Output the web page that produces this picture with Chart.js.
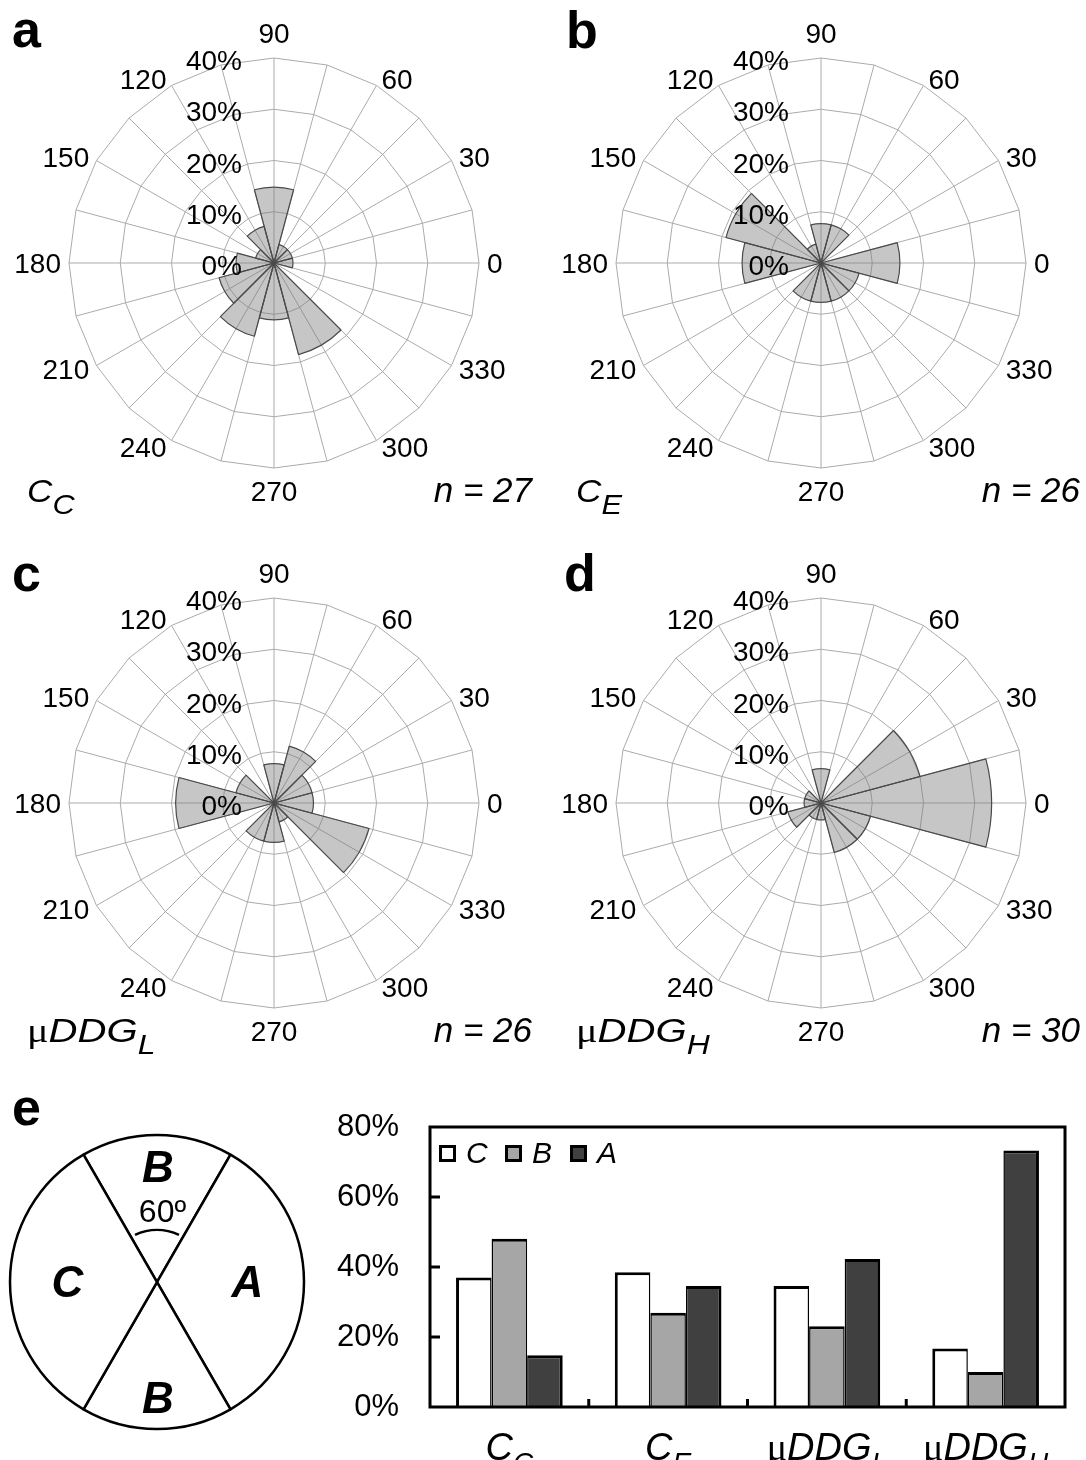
<!DOCTYPE html>
<html>
<head>
<meta charset="utf-8">
<script src="https://cdn.jsdelivr.net/npm/chart.js@4.4.1/dist/chart.umd.min.js"></script>
<style>
html,body{margin:0;padding:0;background:#fff;}
#page{position:relative;width:1086px;height:1460px;overflow:hidden;background:#fff;font-family:"Liberation Sans",Arial,sans-serif;color:#000;}
#page canvas{position:absolute;}
.t{position:absolute;white-space:nowrap;line-height:1;}
.mu{font-family:"Liberation Serif","Times New Roman",serif;font-style:normal;}
.sq{position:absolute;width:11px;height:11px;border:3px solid #000;}
</style>
</head>
<body>
<div id="page"></div>
<script>
// ---------------- data ----------------
const directions = [0, 30, 60, 90, 120, 150, 180, 210, 240, 270, 300, 330];   // wedge centres (deg)
const gridStep = 15;                                                          // spoke spacing (deg)
const radialTicks = [0, 10, 20, 30, 40];                                      // % rings

const roseCC   = [3.7, 3.7, 3.7, 14.8, 7.4, 3.7, 7.4, 11.1, 14.8, 11.1, 18.5, 0];
const roseCE   = [15.4, 0, 7.7, 7.7, 3.8, 19.2, 15.4, 0, 7.7, 7.7, 7.7, 7.7];
const roseDDGL = [7.7, 7.7, 11.5, 7.7, 0, 7.7, 19.2, 0, 7.7, 7.7, 3.8, 19.2];
const roseDDGH = [33.3, 20.0, 0, 6.7, 0, 3.3, 3.3, 6.7, 3.3, 3.3, 10.0, 10.0];
const roseTitles = ['C_C', 'C_E', 'μDDG_L', 'μDDG_H'];
const roseN = [27, 26, 26, 30];
const panelLetters = ['a', 'b', 'c', 'd', 'e'];

const barCategories = ['C_C', 'C_E', 'μDDG_L', 'μDDG_H'];
const barSeriesNames = ['C', 'B', 'A'];
const barC = [37.0, 38.5, 34.6, 16.7];
const barB = [48.1, 26.9, 23.1, 10.0];
const barA = [14.8, 34.6, 42.3, 73.3];
const barTicks = [0, 20, 40, 60, 80];

const sectorNames = ['B', 'A', 'B', 'C'];
const sectorAngles = [60, 120, 60, 120];

// ---------------- helpers ----------------
const page = document.getElementById('page');
const FONT = '"Liberation Sans", Arial, sans-serif';

function fmtLabel(s, subFs, subShift) {
  const parts = s.split('_');
  const main = parts[0].replace('μ', '<span class="mu">μ</span>');
  const sub = parts[1] ? `<span style="font-size:${subFs}px;vertical-align:-${subShift}px">${parts[1]}</span>` : '';
  return main + sub;
}
function addText(html, x, base, fs, o = {}) {
  const d = document.createElement('div');
  d.className = 't';
  d.innerHTML = html;
  d.style.fontSize = fs + 'px';
  if (o.italic) d.style.fontStyle = 'italic';
  if (o.bold) d.style.fontWeight = 'bold';
  d.style.top = (base - 0.8465 * fs) + 'px';
  let tf = '';
  if (o.align === 'right') { d.style.right = (1086 - x) + 'px'; d.style.transformOrigin = 'right center'; }
  else if (o.align === 'center') { d.style.left = x + 'px'; tf = 'translateX(-50%) '; }
  else { d.style.left = x + 'px'; d.style.transformOrigin = 'left center'; }
  if (o.sx) tf += 'scaleX(' + o.sx + ')';
  if (tf) d.style.transform = tf;
  page.appendChild(d);
  return d;
}
function addCanvas(x, y, w, h) {
  const c = document.createElement('canvas');
  c.width = w; c.height = h;
  c.style.left = x + 'px'; c.style.top = y + 'px';
  c.style.width = w + 'px'; c.style.height = h + 'px';
  page.appendChild(c);
  return c;
}

// grid labels: 24 spokes, only multiples of 30 labelled
const nSpokes = 360 / gridStep;
const gridLabels = [];
for (let i = 0; i < nSpokes; i++) {
  const a = ((gridStep - gridStep * i) % 360 + 360) % 360;
  gridLabels.push(directions.includes(a) ? String(a) : '');
}

const roseLabelPlugin = {
  id: 'roseLabels',
  afterDraw(chart) {
    const s = chart.scales.r, ctx = chart.ctx, R = s.drawingArea;
    const fs = 28, cap = fs * 0.716 / 2;
    ctx.save();
    ctx.fillStyle = '#000';
    ctx.font = fs + 'px ' + FONT;
    ctx.textBaseline = 'alphabetic';
    gridLabels.forEach((lab, i) => {
      if (lab === '') return;
      const p = s.getPointPosition(i, R);
      const c = Math.cos(p.angle), sn = -Math.sin(p.angle);
      if (Math.abs(c) < 0.01) {
        ctx.textAlign = 'center';
        ctx.fillText(lab, p.x, sn > 0 ? p.y - 15 : p.y + 33.4);
      } else {
        const off = 2 + 6 * Math.abs(c);
        ctx.textAlign = c > 0 ? 'left' : 'right';
        ctx.fillText(lab, p.x + (c > 0 ? off : -off), p.y - 7.5 * sn + cap);
      }
    });
    ctx.textAlign = 'right';
    radialTicks.forEach(v => {
      const r = s.getDistanceFromCenterForValue(v);
      ctx.fillText(v + '%', s.xCenter - 32, s.yCenter - r + 2 + cap);
    });
    ctx.restore();
  }
};

// ---------------- rose panels ----------------
const roseSeries = [roseCC, roseCE, roseDDGL, roseDDGH];
const panels = [
  {ox: 0,   oy: 0,   cx: 274, cy: 263},
  {ox: 545, oy: 0,   cx: 821, cy: 263},
  {ox: 0,   oy: 540, cx: 274, cy: 803},
  {ox: 545, oy: 540, cx: 821, cy: 803}
];
const CW = 541, CH = 535, RR = 205;
const wedgeWidth = 360 / directions.length;

panels.forEach((P, idx) => {
  const cv = addCanvas(P.ox, P.oy, CW, CH);
  const vals = roseSeries[idx];
  const chartData = [];
  for (let k = 0; k < directions.length; k++) {
    const ang = (360 - wedgeWidth * k) % 360;
    chartData.push(vals[directions.indexOf(ang)]);
  }
  const lx = P.cx - P.ox, ly = P.cy - P.oy;
  new Chart(cv, {
    type: 'polarArea',
    data: {
      labels: gridLabels,
      datasets: [{
        data: chartData,
        backgroundColor: 'rgba(120,120,120,0.42)',
        borderColor: '#4a4a4a',
        borderWidth: 1.2
      }]
    },
    options: {
      responsive: false,
      animation: false,
      events: [],
      layout: {padding: {left: lx - RR, top: ly - RR, right: CW - lx - RR, bottom: CH - ly - RR}},
      plugins: {legend: {display: false}, tooltip: {enabled: false}},
      scales: {
        r: {
          min: 0, max: 40,
          startAngle: 90 - gridStep,
          ticks: {display: false, stepSize: 10},
          grid: {circular: false, color: '#ababab', lineWidth: 1},
          angleLines: {display: true, color: '#ababab', lineWidth: 1},
          pointLabels: {display: false}
        }
      }
    },
    plugins: [roseLabelPlugin]
  });
  // titles & n
  const base = P.cy + 239;
  const isMu = roseTitles[idx].indexOf('μ') === 0;
  addText(fmtLabel(roseTitles[idx], isMu ? 27 : 28, 11.5), P.ox + (idx % 2 ? 31 : 27), base, isMu ? 34 : 32,
          {italic: true, sx: isMu ? 1.18 : 1.1});
  addText('n = ' + roseN[idx], P.ox + (idx % 2 ? 535 : 532), base, 35, {italic: true, align: 'right'});
});

// panel letters
addText(panelLetters[0], 12, 47, 52, {bold: true});
addText(panelLetters[1], 566, 48, 52, {bold: true});
addText(panelLetters[2], 12, 591, 52, {bold: true});
addText(panelLetters[3], 564, 591, 52, {bold: true});
addText(panelLetters[4], 12, 1125, 52, {bold: true});

// ---------------- panel e: schematic pie ----------------
const arcMarkPlugin = {
  id: 'arcMark',
  afterDraw(chart) {
    const el = chart.getDatasetMeta(0).data[0];
    const ctx = chart.ctx;
    ctx.save();
    ctx.strokeStyle = '#000';
    ctx.lineWidth = 2.5;
    ctx.beginPath();
    ctx.arc(el.x, el.y, 52, -115 * Math.PI / 180, -65 * Math.PI / 180);
    ctx.stroke();
    ctx.restore();
  }
};
const cvPie = addCanvas(0, 1130, 314, 304);
new Chart(cvPie, {
  type: 'pie',
  data: {
    labels: sectorNames,
    datasets: [{
      data: sectorAngles,
      backgroundColor: '#ffffff',
      borderColor: '#000000',
      borderWidth: 2.5,
      radius: 147
    }]
  },
  options: {
    responsive: false,
    animation: false,
    events: [],
    rotation: -30,
    plugins: {legend: {display: false}, tooltip: {enabled: false}}
  },
  plugins: [arcMarkPlugin]
});
addText('B', 158, 1182, 44, {bold: true, italic: true, align: 'center'});
addText('C', 67.5, 1297, 44, {bold: true, italic: true, align: 'center'});
addText('A', 247.5, 1297, 44, {bold: true, italic: true, align: 'center'});
addText('B', 158, 1413, 44, {bold: true, italic: true, align: 'center'});
addText('60º', 162.5, 1222, 32, {align: 'center'});

// ---------------- panel e: bar chart ----------------
const framePlugin = {
  id: 'frame',
  afterDatasetsDraw(chart) {
    const {ctx, chartArea: a} = chart;
    ctx.save();
    ctx.strokeStyle = '#000';
    ctx.lineWidth = 3;
    ctx.strokeRect(a.left, a.top, a.right - a.left, a.bottom - a.top);
    const y = chart.scales.y;
    barTicks.forEach(v => {
      if (v <= y.min || v >= y.max) return;
      const py = y.getPixelForValue(v);
      ctx.beginPath(); ctx.moveTo(a.left, py); ctx.lineTo(a.left + 10, py); ctx.stroke();
    });
    const x = chart.scales.x;
    for (let i = 1; i < x.ticks.length; i++) {
      const px = (x.getPixelForTick(i - 1) + x.getPixelForTick(i)) / 2;
      ctx.beginPath(); ctx.moveTo(px, a.bottom); ctx.lineTo(px, a.bottom - 8); ctx.stroke();
    }
    ctx.restore();
  }
};
// y-axis adds (label height/2 + tick padding) = 19 + 31 = 50 px on top
const BX = 330, BY = 1077;
const cvBar = addCanvas(BX, BY, 756, 1460 - BY);
const barColors = ['#ffffff', '#a6a6a6', '#404040'];
const barChart = new Chart(cvBar, {
  type: 'bar',
  data: {
    labels: barCategories,
    datasets: [
      {label: barSeriesNames[0], data: barC, backgroundColor: barColors[0], borderColor: '#000', borderWidth: {left: 3, top: 3, right: 1.5, bottom: 0}},
      {label: barSeriesNames[1], data: barB, backgroundColor: barColors[1], borderColor: '#000', borderWidth: {left: 1.5, top: 3, right: 1.5, bottom: 0}},
      {label: barSeriesNames[2], data: barA, backgroundColor: barColors[2], borderColor: '#000', borderWidth: {left: 1.5, top: 3, right: 3, bottom: 0}}
    ]
  },
  options: {
    responsive: false,
    animation: false,
    events: [],
    layout: {padding: {left: 0, top: 0, right: 21, bottom: 53}},
    datasets: {bar: {barPercentage: 1, categoryPercentage: 0.672}},
    plugins: {legend: {display: false}, tooltip: {enabled: false}},
    scales: {
      x: {
        grid: {display: false, drawTicks: false},
        border: {display: false},
        ticks: {display: false},
        afterFit(s) { s.height = 0; }
      },
      y: {
        min: 0, max: 80,
        afterBuildTicks(s) { s.ticks = barTicks.map(v => ({value: v})); },
        ticks: {callback: v => v + '%', font: {family: 'Liberation Sans', size: 31, lineHeight: '38px'}, color: '#000', padding: 31},
        grid: {display: false, drawTicks: false},
        border: {display: false},
        afterFit(s) { s.width = 100; }
      }
    }
  },
  plugins: [framePlugin]
});

// x category labels (with subscripts)
barCategories.forEach((c, i) => {
  const x = BX + barChart.scales.x.getPixelForValue(i);
  addText(fmtLabel(c, 28, 12), x, 1460, 38, {italic: true, align: 'center'});
});

// legend inside plot
const legX = [439, 505, 570];
barSeriesNames.forEach((nm, i) => {
  const sq = document.createElement('div');
  sq.className = 'sq';
  sq.style.left = legX[i] + 'px';
  sq.style.top = '1145px';
  sq.style.background = barColors[i];
  page.appendChild(sq);
  addText(nm, legX[i] + 27, 1163, 30, {italic: true});
});
</script>
</body>
</html>
